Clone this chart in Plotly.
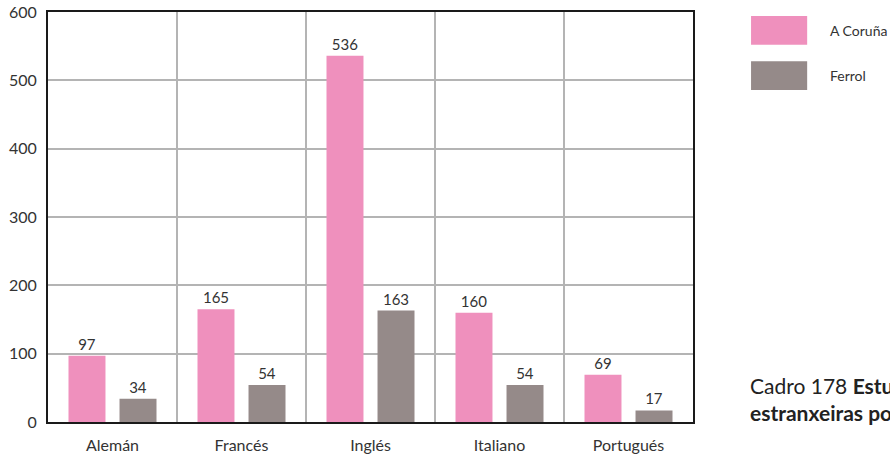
import plotly.graph_objects as go

categories = ["Alemán", "Francés", "Inglés", "Italiano", "Portugués"]
coruna = [97, 165, 536, 160, 69]
ferrol = [34, 54, 163, 54, 17]
series_names = ["A Coruña", "Ferrol"]
y_ticks = [0, 100, 200, 300, 400, 500, 600]

PINK = "#ef90bd"
GRAY = "#958a89"
FONT = "Lato, 'Open Sans', sans-serif"
TXT = "#333333"

xpos = list(range(len(categories)))

fig = go.Figure()
for name, vals, col in [(series_names[0], coruna, PINK), (series_names[1], ferrol, GRAY)]:
    fig.add_trace(go.Bar(
        x=xpos, y=vals, name=name, marker=dict(color=col, line=dict(width=0)),
        text=[str(v) for v in vals], textposition="outside",
        textfont=dict(family=FONT, size=15, color=TXT),
        cliponaxis=False, showlegend=False,
    ))

fig.update_layout(
    width=890, height=454,
    margin=dict(l=48, r=197, t=12, b=32, autoexpand=False),
    paper_bgcolor="white", plot_bgcolor="white",
    barmode="group", bargap=0.209, bargroupgap=0.275,
    font=dict(family=FONT, size=16, color=TXT),
    xaxis=dict(
        range=[-0.5, len(categories) - 0.5],
        tickvals=xpos, ticktext=categories,
        showgrid=False, zeroline=False,
        showline=True, linecolor="#1a1a1a", linewidth=2, mirror=True,
        ticks="", ticklabelstandoff=8,
        tickfont=dict(family=FONT, size=16, color=TXT),
        minor=dict(tickvals=[i + 0.5 for i in xpos[:-1]], showgrid=True,
                   gridcolor="#b4b4b4", gridwidth=1.5, ticks=""),
    ),
    yaxis=dict(
        range=[0, 600], tickvals=y_ticks,
        showgrid=True, gridcolor="#b4b4b4", gridwidth=1.5,
        zeroline=False,
        showline=True, linecolor="#1a1a1a", linewidth=2, mirror=True,
        ticks="", ticklabelstandoff=6,
        tickfont=dict(family=FONT, size=16, color=TXT),
    ),
)

# legend swatches
leg = [(series_names[0], PINK, 0.990, 0.920), (series_names[1], GRAY, 0.880, 0.810)]
for name, col, y1, y0 in leg:
    fig.add_shape(type="rect", xref="paper", yref="paper",
                  x0=1.090, x1=1.177, y0=y0, y1=y1,
                  fillcolor=col, line=dict(width=0))
    fig.add_annotation(xref="paper", yref="paper", x=1.209, y=(y0 + y1) / 2,
                       text=name, showarrow=False, xanchor="left", yanchor="middle",
                       font=dict(family=FONT, size=14, color=TXT))

fig.add_annotation(xref="paper", yref="paper", x=1.085, y=0.055,
                   text="Cadro 178 <b>Estudantes de linguas</b><br><b>estranxeiras por idioma</b>",
                   showarrow=False, xanchor="left", yanchor="middle", align="left",
                   font=dict(family=FONT, size=21, color="#222222"))

fig.write_html("out.html", config={"displayModeBar": False},
               post_script="document.body.style.margin='0';")
